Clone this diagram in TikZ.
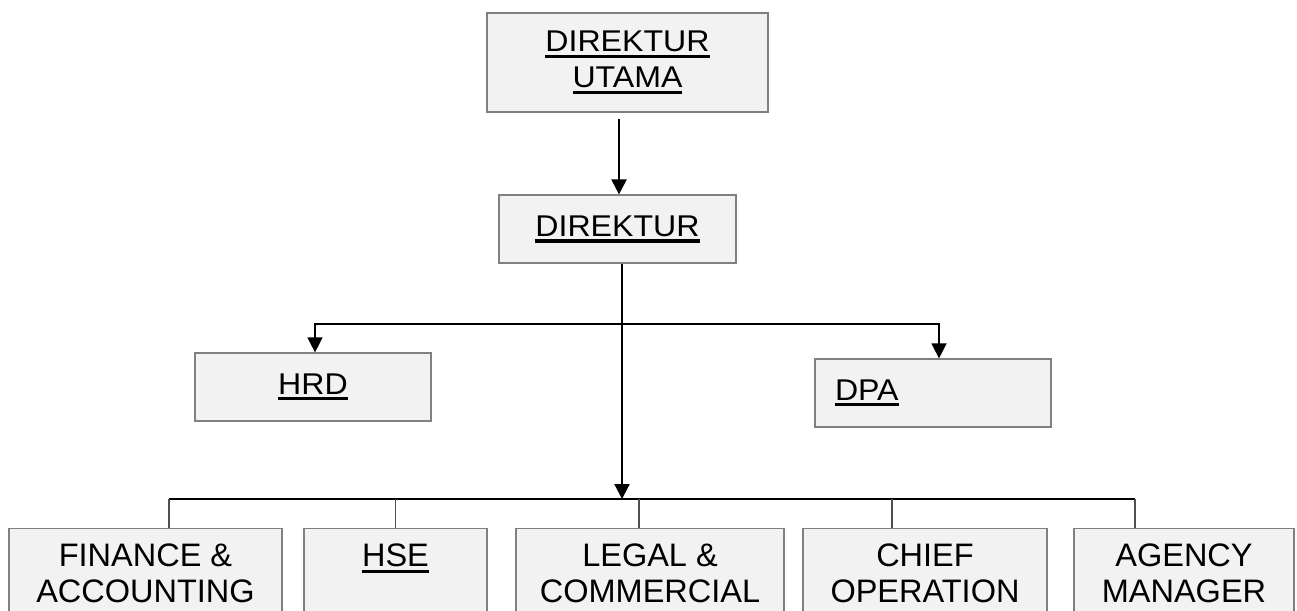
\documentclass[tikz,border=0pt]{standalone}
\usepackage{fontspec}
\newfontfamily\orgfont{Liberation Sans}[FakeStretch=1.07]
\newfontfamily\rowfont{Liberation Sans}
\usepackage{tikz}
\usetikzlibrary{positioning, arrows.meta, calc}

\definecolor{boxline}{HTML}{808080}
\definecolor{boxfill}{HTML}{F2F2F2}
\definecolor{tickline}{HTML}{505050}

% heavy underline for the unit names
\newcommand{\orgul}[1]{\leavevmode\vtop{\hbox{#1}\kern3pt\hrule height 3.2pt}}

\begin{document}
\begin{tikzpicture}[
  x=1pt, y=-1pt,
  unit/.style={
    rectangle,
    draw=boxline, line width=1.2pt,
    fill=boxfill, % light grey like the original chart
    align=center, inner sep=0pt,
    font=\orgfont\fontsize{30}{36.5}\selectfont
  },
  lower/.style={unit, anchor=north, minimum height=90pt,
    font=\rowfont\fontsize{32.5}{36}\selectfont},
  stem/.style={line width=2.2pt, -{Triangle[length=15pt,width=15pt]}},
  branch/.style={line width=1.3pt, -{Triangle[length=15pt,width=15pt]}},
  bar/.style={line width=1.3pt},
  tick/.style={line width=1.3pt, draw=tickline}
]
\useasboundingbox (0,0) rectangle (1297,610);
\clip (0,0) rectangle (1297,610);

\node [unit, minimum width=281pt, minimum height=99pt] (utama) at (627.5,62.5)
  {\orgul{DIREKTUR}\\ \orgul{UTAMA}};
\node [unit, minimum width=237pt, minimum height=68pt] (direktur) at (617.5,229)
  {\orgul{DIREKTUR}};
\node [unit, minimum width=236pt, minimum height=68pt] (hrd) at (313,387)
  {\orgul{HRD}};
\node [unit, text width=196pt, inner xsep=20pt, minimum height=68pt, align=left] (dpa) at (933,393)
  {\orgul{DPA}};

% lower row
\node [lower, minimum width=273pt] (finance) at (145.5,528) {FINANCE \&\\ ACCOUNTING};
\node [lower, minimum width=183pt] (hse) at (395.5,528) {\orgul{HSE}\\ ~};
\node [lower, minimum width=268pt] (legal) at (650,528) {LEGAL \&\\ COMMERCIAL};
\node [lower, minimum width=244pt] (chief) at (925,528) {CHIEF\\ OPERATION};
\node [lower, minimum width=220pt] (agency) at (1184,528) {AGENCY\\ MANAGER};

\coordinate (dtop) at ([xshift=1.5pt]direktur.north);
\coordinate (dfoot) at ([xshift=4.5pt]direktur.south);
\coordinate (fork) at (622,324);
\coordinate (barL) at (169,499);
\coordinate (barR) at (1135,499);

\draw [stem, shorten <=6pt] (utama.south -| dtop) -- (dtop);
\draw [stem] (dfoot) -- (dfoot |- barL);
\draw [branch] (fork) -| ([xshift=2pt]hrd.north);
\draw [branch] (fork) -| ([xshift=6pt]dpa.north);

\draw [bar] (barL) -- (barR);
\foreach \unitname/\dx in {finance/23.5, hse/0, legal/-11, chief/-33, agency/-49}
  \draw [tick] ([xshift=\dx pt]\unitname.north |- barL) -- ([xshift=\dx pt]\unitname.north);
\end{tikzpicture}
\end{document}
